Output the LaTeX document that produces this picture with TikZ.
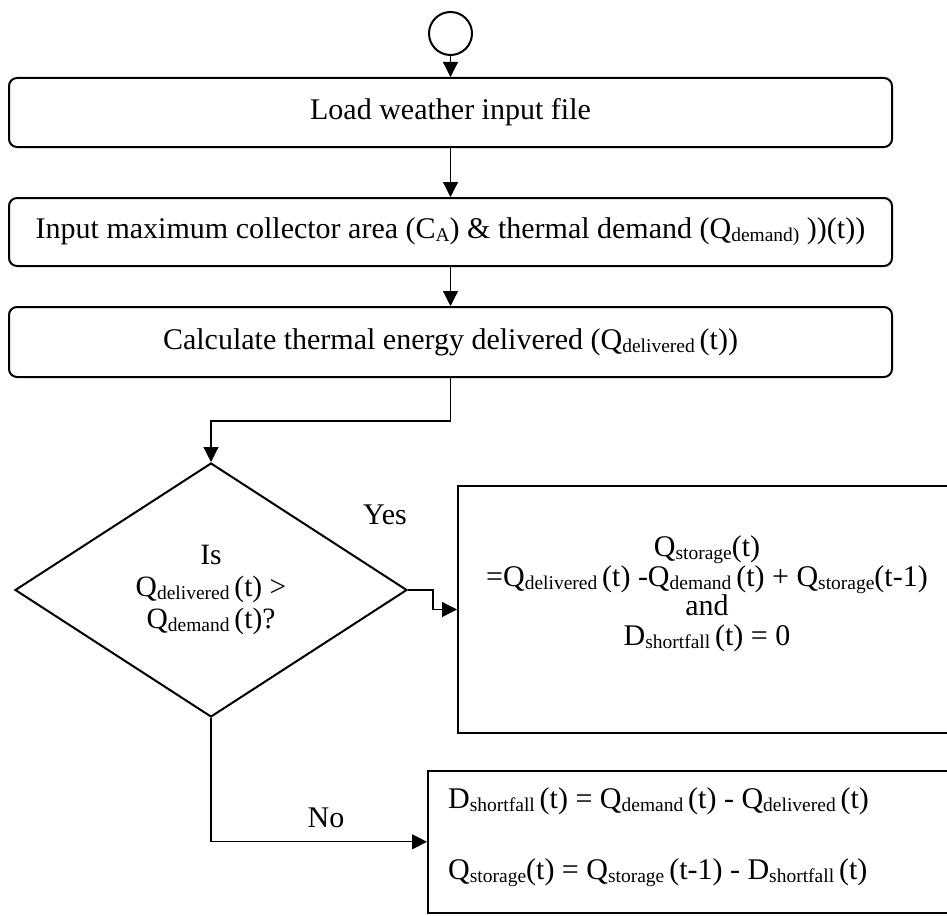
\documentclass[tikz,border=0pt]{standalone}
\usepackage{fontspec}
\setmainfont{Liberation Serif}
\usetikzlibrary{arrows.meta,shapes.geometric}
% small, slightly lowered subscript text
\newcommand\sbt[1]{\raisebox{-3pt}{\fontsize{19.5}{19.5}\selectfont #1}}
\begin{document}
\begin{tikzpicture}[x=1pt,y=-1pt,
  every node/.style={font=\fontsize{30}{33}\selectfont},
  stepbox/.style={draw, line width=2pt, rounded corners=8pt,
    minimum width=883pt, inner sep=0pt},
  plainbox/.style={draw, line width=2pt, inner sep=0pt, anchor=north west},
  conn/.style={line width=1.2pt, -{Triangle[length=15pt,width=15pt]}},
  lbl/.style={inner sep=0pt}]
\clip (0,0) rectangle (947,915);

% start marker
\node[draw, circle, line width=2pt, minimum size=43pt, inner sep=0pt] (start) at (450.5,33.5) {};

% process steps
\node[stepbox, minimum height=69pt] (b1) at (450.5,112.5) {Load weather input file};
\node[stepbox, minimum height=68pt] (b2) at (450.5,232) {Input maximum collector area (C\sbt{A}) \& thermal demand (Q\sbt{demand)} ))(t))};
\node[stepbox, minimum height=70pt] (b3) at (450.5,342) {Calculate thermal energy delivered (Q\sbt{delivered }(t))};

% decision
\node[draw, diamond, line width=2pt, inner sep=0pt, aspect=1.54,
  minimum width=392pt, minimum height=254pt, align=center,
  font=\fontsize{29.5}{32}\selectfont] (dec) at (211,590)
  {Is\\ Q\sbt{delivered }(t) >\\ Q\sbt{demand }(t)?};

% outcome boxes
\node[plainbox, minimum width=503pt, minimum height=247pt] (b4) at (457,485) {};
\node[lbl, align=center, font=\fontsize{30}{29.5}\selectfont] (b4txt) at (707,594)
  {Q\sbt{storage}(t)\\
   =Q\sbt{delivered }(t) -Q\sbt{demand }(t) + Q\sbt{storage}(t-1)\\
   and\\
   D\sbt{shortfall }(t) = 0};

\node[plainbox, line width=1.6pt, minimum width=533pt, minimum height=142pt] (b5) at (427,770) {};
\node[lbl, align=left, anchor=west, font=\fontsize{30}{71}\selectfont] (b5txt) at (448,837.5)
  {D\sbt{shortfall }(t) = Q\sbt{demand }(t) - Q\sbt{delivered }(t)\\
   Q\sbt{storage}(t) = Q\sbt{storage }(t-1) - D\sbt{shortfall }(t)};

% branch labels
\node[lbl] (yes) at (385,515) {Yes};
\node[lbl] (no) at (326,818) {No};

% connectors
\draw[conn] (start.south) -- (b1.north);
\draw[conn] (b1.south) -- (b2.north);
\draw[conn] (b2.south) -- (b3.north);
\draw[conn] (b3.south) -- ++(0,43) -| (dec.north);
\draw[conn] (dec.east) -- ++(25,0) |- (b4.west);
\draw[conn] (dec.south) |- (b5.west);
\end{tikzpicture}
\end{document}
